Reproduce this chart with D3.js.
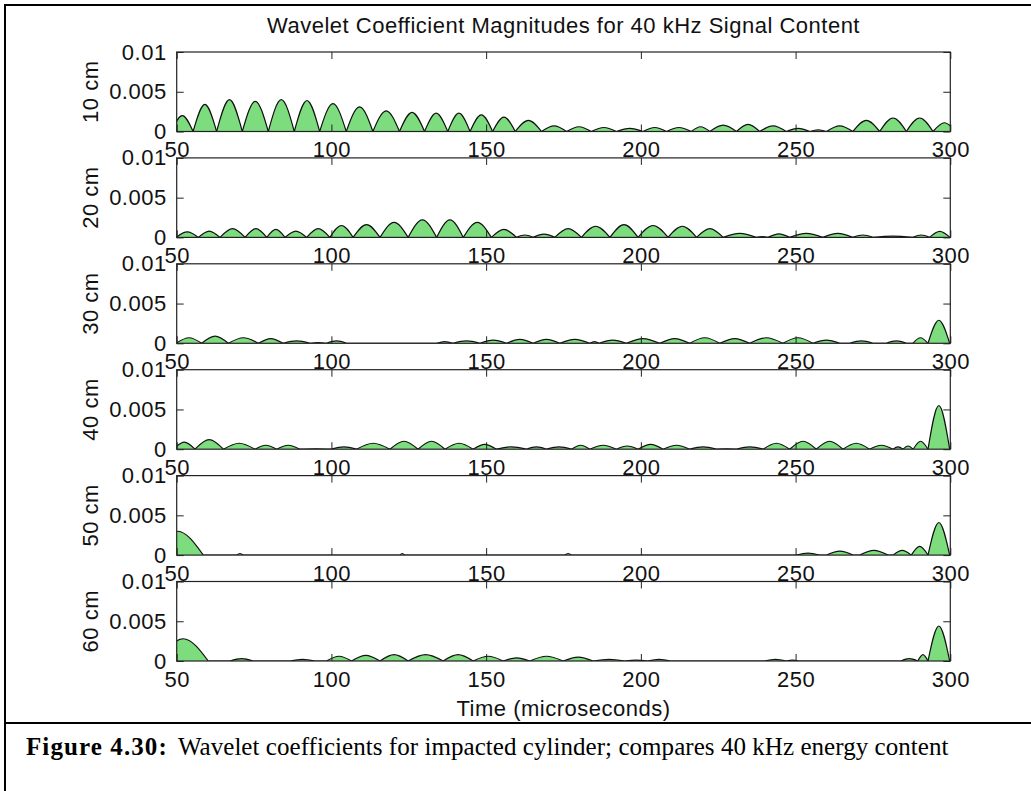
<!DOCTYPE html>
<html><head><meta charset="utf-8">
<script src="https://cdn.jsdelivr.net/npm/d3@7"></script>
<style>body{margin:0;background:#fff} svg{display:block}</style>
</head><body>
<svg id="c" width="1031" height="791"></svg>
<script>
// ---------------- data ----------------
const titleText = "Wavelet Coefficient Magnitudes for 40 kHz Signal Content";
const xLabelText = "Time (microseconds)";
const panelLabels = ["10 cm", "20 cm", "30 cm", "40 cm", "50 cm", "60 cm"];
const xTicks = [50, 100, 150, 200, 250, 300];
const xTickLabels = ["50", "100", "150", "200", "250", "300"];
const yTicks = [0, 0.005, 0.01];
const yTickLabels = ["0", "0.005", "0.01"];

// hump boundaries (microseconds) and hump peak magnitudes
const valleys10 = [48.3, 55.3, 62.9, 71.2, 79.6, 88.0, 96.2, 104.8, 113.4, 122.0, 130.1, 137.6, 144.8, 152.1, 159.4, 167.9, 176.0, 184.0, 192.1, 200.7, 208.3, 216.3, 222.3, 230.9, 238.4, 247.0, 254.6, 260.0, 268.5, 277.2, 285.8, 294.4, 301.8];
const peaks10   = [0.0020, 0.0034, 0.0040, 0.0038, 0.0040, 0.0039, 0.0035, 0.0031, 0.0026, 0.0024, 0.0023, 0.0023, 0.0021, 0.0018, 0.0014, 0.0007, 0.0006, 0.0005, 0.0004, 0.0005, 0.0005, 0.0006, 0.0008, 0.0009, 0.0007, 0.0004, 0.0002, 0.0007, 0.0014, 0.0017, 0.0017, 0.0011];

const valleys20 = [49.8, 57.0, 64.0, 72.1, 79.1, 85.0, 92.0, 99.5, 107.0, 115.7, 124.8, 134.0, 142.6, 151.7, 159.8, 165.2, 172.2, 180.8, 190.0, 199.1, 208.8, 218.0, 226.6, 237.3, 241.1, 248.1, 258.8, 268.5, 275.0, 287.9, 293.3, 299.9];
const peaks20   = [0.0007, 0.0008, 0.0011, 0.0011, 0.0010, 0.0008, 0.0011, 0.0015, 0.0016, 0.0019, 0.0022, 0.0022, 0.0019, 0.0010, 0.0003, 0.0004, 0.0011, 0.0014, 0.0016, 0.0015, 0.0014, 0.0011, 0.0005, 0.0001, 0.00045, 0.0005, 0.0005, 0.0003, 0.00015, 0.0003, 0.00075];

const valleys30 = [49.8, 58.1, 66.7, 76.4, 84.4, 93.1, 98.4, 104.9, 134.0, 139.3, 148.0, 156.6, 165.2, 173.8, 183.5, 186.5, 195.3, 206.1, 215.8, 225.5, 235.2, 245.9, 255.6, 264.3, 267.5, 275.0, 279.3, 285.8, 287.9, 292.8, 299.8];
const peaks30   = [0.0007, 0.0009, 0.0007, 0.0006, 0.0003, 0.0001, 0.0003, 0, 0.0002, 0.0003, 0.0004, 0.0005, 0.0005, 0.0005, 0.0002, 0.0004, 0.0006, 0.0006, 0.0007, 0.0006, 0.0007, 0.0007, 0.0004, 0, 0.0003, 0, 0.0003, 0, 0.0007, 0.0029];

const valleys40 = [49.0, 55.9, 65.1, 75.3, 82.3, 89.8, 100.0, 108.1, 118.9, 128.0, 136.7, 145.8, 153.3, 163.0, 169.5, 177.6, 183.5, 192.1, 199.1, 207.2, 215.8, 224.4, 230.9, 239.5, 248.1, 256.7, 265.3, 273.9, 281.5, 284.7, 288.0, 292.8, 299.8];
const peaks40   = [0.0009, 0.0012, 0.00075, 0.0005, 0.0005, 0.00005, 0.0003, 0.00075, 0.0010, 0.0010, 0.00075, 0.0006, 0.0003, 0.0003, 0.0003, 0.0005, 0.0005, 0.0004, 0.0006, 0.0005, 0.0003, 0.00005, 0.0003, 0.00075, 0.0010, 0.0010, 0.00075, 0.0005, 0.0003, 0.0004, 0.0010, 0.0055];

const valleys50 = [42.0, 58.6, 69.4, 71.5, 122.1, 123.7, 175.4, 177.6, 250.2, 257.8, 260.0, 268.6, 270.7, 279.9, 281.5, 287.4, 292.8, 299.8];
const peaks50   = [0.0030, 0, 0.0002, 0, 0.0002, 0, 0.0002, 0, 0.00025, 0, 0.0005, 0, 0.0006, 0, 0.0006, 0.0011, 0.0041];

const valleys60 = [44.0, 60.2, 67.2, 74.7, 86.6, 94.7, 98.4, 106.5, 115.7, 124.8, 136.1, 145.8, 155.5, 164.1, 174.9, 184.6, 194.8, 202.2, 209.6, 240.0, 247.0, 251.0, 284.0, 289.5, 292.8, 299.8];
const peaks60   = [0.0028, 0, 0.0003, 0, 0.0002, 0, 0.0006, 0.0007, 0.0008, 0.0008, 0.0008, 0.0006, 0.0004, 0.0006, 0.0005, 0.0002, 0.0001, 0.0002, 0, 0.0002, 0.0001, 0, 0.0003, 0.0008, 0.0044];

const captionBold = "Figure 4.30:";
const captionText = "Wavelet coefficients for impacted cylinder; compares 40 kHz energy content";

// ---------------- drawing ----------------
const series = [
  {v: valleys10, p: peaks10}, {v: valleys20, p: peaks20}, {v: valleys30, p: peaks30},
  {v: valleys40, p: peaks40}, {v: valleys50, p: peaks50}, {v: valleys60, p: peaks60}
];

const svg = d3.select("#c");
const FONT = "'Liberation Sans', Arial, Helvetica, sans-serif";
const FS = 22, LS = 0.5;
const left = 176.7, right = 950.3, top0 = 52, step = 105.9, ph = 79.5;
const x = d3.scaleLinear().domain([50, 300]).range([left, right]);

// frame
svg.append("line").attr("x1", 5).attr("y1", 5).attr("x2", 1031).attr("y2", 5).attr("stroke", "#000").attr("stroke-width", 2);
svg.append("line").attr("x1", 5).attr("y1", 4).attr("x2", 5).attr("y2", 791).attr("stroke", "#000").attr("stroke-width", 2);
svg.append("line").attr("x1", 5).attr("y1", 723).attr("x2", 1031).attr("y2", 723).attr("stroke", "#000").attr("stroke-width", 2);

const defs = svg.append("defs");

series.forEach((s, k) => {
  const top = top0 + k * step, bot = top + ph;
  const y = d3.scaleLinear().domain([0, 0.01]).range([bot, top]);
  const g = svg.append("g");

  defs.append("clipPath").attr("id", "clip" + k)
    .append("rect").attr("x", left).attr("y", top).attr("width", right - left).attr("height", ph);

  const humps = s.p.map((pk, i) => [[s.v[i], 0], [(s.v[i] + s.v[i + 1]) / 2, pk], [s.v[i + 1], 0]]);
  const area = d3.area().x(d => x(d[0])).y0(y(0)).y1(d => y(d[1])).curve(d3.curveNatural);
  const line = d3.line().x(d => x(d[0])).y(d => y(d[1])).curve(d3.curveNatural);
  const dg = g.append("g").attr("clip-path", `url(#clip${k})`);
  dg.selectAll("path.a").data(humps).join("path").attr("class", "a")
    .attr("d", area).attr("fill", "#7ddc7d").attr("stroke", "none");
  dg.selectAll("path.l").data(humps).join("path").attr("class", "l")
    .attr("d", line).attr("fill", "none").attr("stroke", "#111").attr("stroke-width", 1.2);

  // axes (MATLAB style: ticks pointing inward on all four sides)
  const ax = g.append("g").attr("font-family", FONT);
  const bottomAxis = d3.axisBottom(x).tickValues(xTicks).tickFormat((d, i) => xTickLabels[i])
    .tickSizeInner(-7).tickSizeOuter(0).tickPadding(10);
  const topAxis = d3.axisTop(x).tickValues(xTicks).tickFormat("").tickSizeInner(-7).tickSizeOuter(0);
  const leftAxis = d3.axisLeft(y).tickValues(yTicks).tickFormat((d, i) => yTickLabels[i])
    .tickSizeInner(-7).tickSizeOuter(0).tickPadding(10);
  const rightAxis = d3.axisRight(y).tickValues(yTicks).tickFormat("").tickSizeInner(-7).tickSizeOuter(0);

  [[bottomAxis, `translate(0,${bot})`], [topAxis, `translate(0,${top})`],
   [leftAxis, `translate(${left},0)`], [rightAxis, `translate(${right},0)`]].forEach(([a, t]) => {
    const gg = ax.append("g").attr("transform", t).call(a);
    gg.select(".domain").remove();
    gg.selectAll("line").attr("stroke", "#222");
    gg.selectAll("text").attr("font-size", FS).attr("letter-spacing", LS).attr("fill", "#111").attr("font-family", FONT);
  });

  ax.append("rect").attr("x", left).attr("y", top).attr("width", right - left).attr("height", ph)
    .attr("fill", "none").attr("stroke", "#222").attr("stroke-width", 1.2);

  svg.append("text").attr("transform", `translate(98,${(top + bot) / 2}) rotate(-90)`)
    .attr("text-anchor", "middle").attr("font-family", FONT).attr("font-size", FS).attr("letter-spacing", LS)
    .attr("fill", "#111").text(panelLabels[k]);
});

svg.append("text").attr("x", (left + right) / 2).attr("y", 33).attr("text-anchor", "middle")
  .attr("font-family", FONT).attr("font-size", FS).attr("letter-spacing", LS).attr("fill", "#111").text(titleText);
svg.append("text").attr("x", (left + right) / 2).attr("y", 716).attr("text-anchor", "middle")
  .attr("font-family", FONT).attr("font-size", FS).attr("letter-spacing", LS).attr("fill", "#111").text(xLabelText);

const cap = svg.append("text").attr("x", 26).attr("y", 755)
  .attr("font-family", "'Liberation Serif', 'Times New Roman', serif").attr("font-size", 25).attr("fill", "#000");
cap.append("tspan").attr("font-weight", "bold").attr("letter-spacing", 1.1).text(captionBold);
cap.append("tspan").attr("dx", 10).attr("letter-spacing", 0.05).text(captionText);
</script>
</body></html>
